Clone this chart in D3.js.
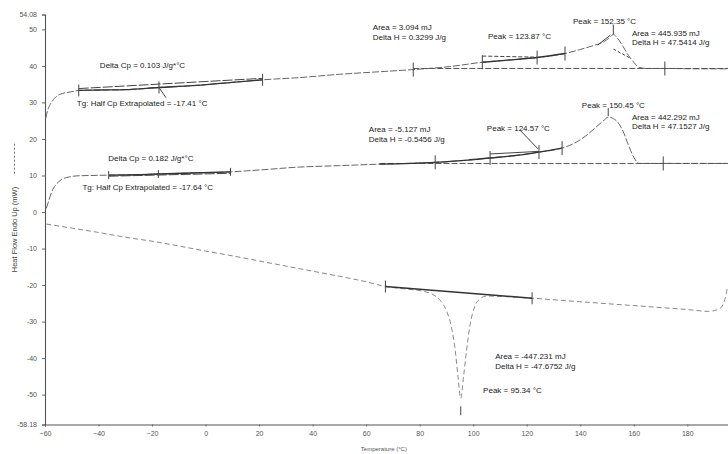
<!DOCTYPE html>
<html>
<head>
<meta charset="utf-8">
<script src="https://cdn.jsdelivr.net/npm/d3@7"></script>
<style>
  body { margin: 0; background: #fff; }
  svg { display: block; font-family: "Liberation Sans", Arial, sans-serif; }
</style>
</head>
<body>
<svg id="chart" width="728" height="454"></svg>
<script>
// DSC thermogram: first heating, second heating and cooling scans.
const xTicks = [-60, -40, -20, 0, 20, 40, 60, 80, 100, 120, 140, 160, 180];
const yTicks = [54.08, 50, 40, 30, 20, 10, 0, -10, -20, -30, -40, -50, -58.18];
const yTickLabels = ["54.08", "50", "40", "30", "20", "10", "0", "-10", "-20", "-30", "-40", "-50", "-58.18"];

// First heating scan (°C, mW)
const heat1Temp = [-59.7, -59.0, -58.0, -56.5, -54.5, -52, -49.5, -47.4, -40, -30, -17.41, -5, 10, 21.3, 35, 50, 67, 77.6, 91, 103.4, 113, 123.87, 134.3, 140, 145, 149, 151, 152.35, 154, 156, 158, 160, 162, 165, 171.6, 185, 195];
const heat1Flow = [25.7, 27.9, 29.5, 31.1, 32.2, 32.7, 33.0, 33.3, 33.4, 33.5, 34.1, 34.6, 35.5, 36.2, 36.8, 37.7, 38.5, 39.0, 39.8, 41.0, 41.6, 42.3, 43.4, 44.5, 45.6, 46.7, 47.8, 48.6, 47.5, 45.3, 42.9, 41.0, 39.6, 39.3, 39.3, 39.2, 39.2];

// Second heating scan
const heat2Temp = [-59.5, -58.5, -57.5, -56, -54, -51, -48, -43, -36.2, -25, -17.64, -5, 9.3, 20, 35, 50, 65, 85.8, 98, 106.3, 115, 124.57, 133.2, 138, 142, 146, 149, 150.45, 152, 154, 156, 158, 160, 162, 171, 185, 195];
const heat2Flow = [1.0, 3.3, 5.5, 7.4, 8.8, 9.6, 9.9, 10.0, 10.1, 10.2, 10.4, 10.7, 11.0, 11.5, 12.3, 12.7, 13.1, 13.6, 14.2, 14.8, 15.4, 16.4, 17.5, 18.9, 20.8, 23.3, 25.2, 26.0, 25.7, 24.6, 22.1, 18.3, 15.0, 13.3, 13.3, 13.3, 13.3];

// Cooling scan
const coolTemp = [-59.5, -50, -40, -30, -20, -10, 0, 10, 20, 30, 40, 50, 60, 67.2, 75, 82, 85, 88, 90, 92, 93.3, 94.3, 95.34, 96.4, 97.5, 98.8, 100.5, 102.5, 105, 110, 122, 135, 150, 165, 180, 188, 192, 194, 195];
const coolFlow = [-3.3, -4.4, -5.6, -6.9, -8.0, -9.3, -10.7, -12.0, -13.4, -14.8, -16.2, -17.6, -19.1, -20.4, -21.1, -21.8, -22.6, -24.5, -27, -32, -38, -45, -51, -45, -38, -31, -26, -23.8, -23.0, -23.1, -23.6, -24.3, -25.1, -25.9, -26.7, -27.2, -26.5, -24, -20.6];

// Analysis limit markers (temperatures) on each scan
const heat1Limits = [-47.4, -17.41, 21.3, 77.6, 103.4, 123.87, 134.3, 171.6];
const heat2Limits = [-36.2, -17.64, 9.3, 85.8, 106.3, 124.57, 133.2, 171];
const coolLimits = [67.2, 122];

// Peak temperatures
const heat1Peak = 152.35;
const heat2Peak = 150.45;
const coolPeak = 95.34;

// Baseline levels under the melting peaks (mW)
const heat1Baseline = 39.3;
const heat2Baseline = 13.3;

// Annotation texts with anchor temperature / heat flow
const notes = [
  { t: -39.5, f: 39.4, text: "Delta Cp = 0.103 J/g*°C" },
  { t: -48.1, f: 29.0, text: "Tg: Half Cp Extrapolated = -17.41 °C" },
  { t: 62.5, f: 49.8, text: "Area = 3.094 mJ" },
  { t: 62.5, f: 47.2, text: "Delta H = 0.3299 J/g" },
  { t: 105.5, f: 47.4, text: "Peak = 123.87 °C" },
  { t: 137.3, f: 51.5, text: "Peak = 152.35 °C" },
  { t: 159.3, f: 48.3, text: "Area = 445.935 mJ" },
  { t: 159.3, f: 45.7, text: "Delta H = 47.5414 J/g" },
  { t: -36.4, f: 14.0, text: "Delta Cp = 0.182 J/g*°C" },
  { t: -46.0, f: 6.0, text: "Tg: Half Cp Extrapolated = -17.64 °C" },
  { t: 61.0, f: 21.9, text: "Area = -5.127 mJ" },
  { t: 61.0, f: 19.3, text: "Delta H = -0.5456 J/g" },
  { t: 105.1, f: 22.1, text: "Peak = 124.57 °C" },
  { t: 140.6, f: 28.5, text: "Peak = 150.45 °C" },
  { t: 159.3, f: 25.2, text: "Area = 442.292 mJ" },
  { t: 159.3, f: 22.6, text: "Delta H = 47.1527 J/g" },
  { t: 108.2, f: -40.3, text: "Area = -447.231 mJ" },
  { t: 108.2, f: -42.9, text: "Delta H = -47.6752 J/g" },
  { t: 103.7, f: -49.5, text: "Peak = 95.34 °C" }
];

const svg = d3.select("#chart");
const x = d3.scaleLinear().domain([-60, 195.2]).range([45, 728]);
const y = d3.scaleLinear().domain([-58.18, 54.08]).range([424.5, 14.5]);

const zip = (ts, fs) => ts.map((t, i) => [t, fs[i]]);
const heat1 = zip(heat1Temp, heat1Flow);
const heat2 = zip(heat2Temp, heat2Flow);
const cool = zip(coolTemp, coolFlow);

const line = d3.line().x(d => x(d[0])).y(d => y(d[1])).curve(d3.curveMonotoneX);
const flowAt = (data, t) => {
  const i = d3.bisector(d => d[0]).left(data, t);
  if (i <= 0) return data[0][1];
  if (i >= data.length) return data[data.length - 1][1];
  const a = data[i - 1], b = data[i];
  return a[1] + (b[1] - a[1]) * (t - a[0]) / (b[0] - a[0]);
};
const slice = (data, t0, t1) => {
  const pts = data.filter(d => d[0] > t0 && d[0] < t1);
  return [[t0, flowAt(data, t0)], ...pts, [t1, flowAt(data, t1)]];
};

// Axes
const yAxis = d3.axisLeft(y).tickValues(yTicks).tickSize(3)
  .tickFormat((d, i) => yTickLabels[i]);
const xAxis = d3.axisBottom(x).tickValues(xTicks).tickSize(2)
  .tickFormat(d3.format("d"));

const gy = svg.append("g").attr("transform", `translate(${x(-60)},0)`).call(yAxis);
const gx = svg.append("g").attr("transform", `translate(0,${y(-58.18)})`).call(xAxis);
[gx, gy].forEach(g => {
  g.select(".domain").attr("stroke", "#555").attr("stroke-width", 1.1);
  g.selectAll(".tick line").attr("stroke", "#666");
  g.selectAll(".tick text").attr("fill", "#555").style("font-size", "7px")
    .style("font-family", "'Liberation Sans', Arial, sans-serif");
});
gx.selectAll(".tick text").attr("dy", "0.9em");
gy.selectAll(".tick text").attr("dx", "-2");

// Axis titles
svg.append("text")
  .attr("transform", `translate(17,${y(-16.5)}) rotate(-90)`)
  .attr("fill", "#444").style("font-size", "7.5px")
  .text("Heat Flow Endo Up (mW)");
svg.append("line")
  .attr("x1", 14.5).attr("x2", 14.5)
  .attr("y1", y(10.5)).attr("y2", y(19))
  .attr("stroke", "#777").attr("stroke-dasharray", "2,2");
svg.append("text")
  .attr("x", x(58)).attr("y", 451)
  .attr("fill", "#555").style("font-size", "6px")
  .text("Temperature (°C)");

// Scan curves
svg.append("path").datum(cool).attr("d", line)
  .attr("fill", "none").attr("stroke", "#888").attr("stroke-width", 1)
  .attr("stroke-dasharray", "5,3");
[heat1, heat2].forEach(data => {
  svg.append("path").datum(data).attr("d", line)
    .attr("fill", "none").attr("stroke", "#666").attr("stroke-width", 1)
    .attr("stroke-dasharray", "7,2");
});

// Baselines under melting peaks
[[heat1Baseline, 77.6], [heat2Baseline, 65]].forEach(([f, t0]) => {
  svg.append("line")
    .attr("x1", x(t0)).attr("x2", x(195.2))
    .attr("y1", y(f)).attr("y2", y(f))
    .attr("stroke", "#555").attr("stroke-width", 1).attr("stroke-dasharray", "6,2");
});

const solid = (data, t0, t1) => svg.append("path").datum(slice(data, t0, t1))
  .attr("d", line).attr("fill", "none").attr("stroke", "#333").attr("stroke-width", 1.4);
const seg = (a, b, dash) => svg.append("line")
  .attr("x1", x(a[0])).attr("y1", y(a[1])).attr("x2", x(b[0])).attr("y2", y(b[1]))
  .attr("stroke", "#444").attr("stroke-width", 1)
  .attr("stroke-dasharray", dash || null);

// Glass transition constructions
solid(heat1, -47.4, 21.3);
seg([-47.4, 33.8], [21.3, 36.6], "10,2");
seg([-17.41, 34.1], [-14.8, 31.3]);
solid(heat2, -36.2, 9.3);
seg([-36.2, 9.8], [9.3, 10.6], "10,2");

// Small transitions before melting
solid(heat1, 103.4, 134.3);
seg([103.4, 42.7], [123.87, 42.4], "4,2");
solid(heat2, 65, 133.2);
seg([106.3, 15.9], [124.57, 16.6]);
seg([117.5, 22.4], [124.2, 17.3]);

// Peak leader lines
seg([146.5, 45.7], [151.2, 48.4]);
seg([152.4, 44.6], [158.5, 42.2], "3,2");

// Crystallisation baseline on cooling
seg([67.2, flowAt(cool, 67.2)], [122, flowAt(cool, 122)]).attr("stroke", "#333").attr("stroke-width", 1.4);

// Limit markers
const marker = (data, t, half) => svg.append("line")
  .attr("x1", x(t)).attr("x2", x(t))
  .attr("y1", y(flowAt(data, t)) - half).attr("y2", y(flowAt(data, t)) + half)
  .attr("stroke", "#444").attr("stroke-width", 1);
heat1Limits.forEach((t, i) => marker(heat1, t, i < 3 ? 6 : 7));
heat2Limits.forEach((t, i) => marker(heat2, t, i < 3 ? 4 : 7));
coolLimits.forEach(t => marker(cool, t, 6));

// Peak markers
const peakMark = (data, t, off, len) => {
  const yy = y(flowAt(data, t));
  svg.append("line").attr("x1", x(t)).attr("x2", x(t))
    .attr("y1", yy + off).attr("y2", yy + off + len)
    .attr("stroke", "#444").attr("stroke-width", 1);
};
peakMark(heat1, heat1Peak, -10, 10);
peakMark(heat2, heat2Peak, -9, 8);
peakMark(cool, coolPeak, 8, 9);

// Annotations
svg.append("g").selectAll("text").data(notes).join("text")
  .attr("x", d => x(d.t)).attr("y", d => y(d.f))
  .attr("fill", "#222").style("font-size", "8px")
  .text(d => d.text);
</script>
</body>
</html>
